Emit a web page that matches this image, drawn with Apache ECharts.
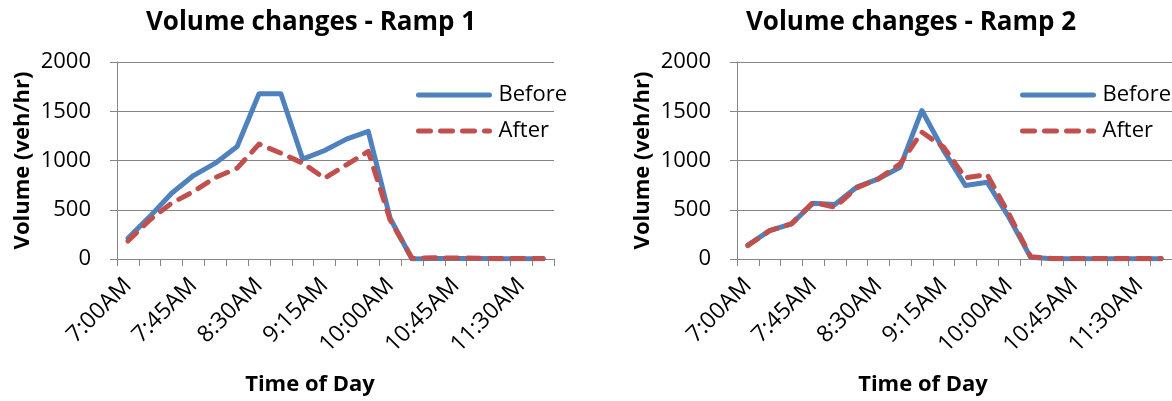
<!DOCTYPE html>
<html>
<head>
<meta charset="utf-8">
<script src="https://cdn.jsdelivr.net/npm/echarts@6/dist/echarts.min.js"></script>
<style>
  html, body { margin: 0; padding: 0; background: #fff; }
  #chart { width: 1172px; height: 401px; }
</style>
</head>
<body>
<div id="chart"></div>
<script>
// 15-minute intervals, 7:00AM - 11:45AM
var times = ['7:00AM', '7:15AM', '7:30AM', '7:45AM', '8:00AM', '8:15AM', '8:30AM', '8:45AM',
    '9:00AM', '9:15AM', '9:30AM', '9:45AM', '10:00AM', '10:15AM', '10:30AM', '10:45AM',
    '11:00AM', '11:15AM', '11:30AM', '11:45AM'];

var ramp1Before = [210, 430, 668, 847, 973, 1142, 1678, 1678, 1014, 1102, 1217, 1295, 414, 0, 5, 5, 5, 3, 3, 3];
var ramp1After = [183, 397, 566, 685, 827, 922, 1166, 1075, 973, 820, 956, 1092, 397, 8, 12, 10, 8, 5, 5, 5];
var ramp2Before = [142, 288, 356, 566, 553, 729, 814, 932, 1508, 1102, 746, 780, 424, 17, 3, 3, 3, 3, 3, 3];
var ramp2After = [136, 288, 356, 576, 525, 722, 814, 966, 1288, 1136, 824, 858, 458, 24, 5, 5, 5, 5, 5, 5];

var FONT = 'Open Sans';
var GRID_COLOR = '#868686';
var BLUE = '#4F81BD';
var RED = '#C0504D';

var chart = echarts.init(document.getElementById('chart'));

function makeX(idx) {
    return {
        type: 'category',
        gridIndex: idx,
        data: times,
        boundaryGap: true,
        axisLine: { lineStyle: { color: GRID_COLOR, width: 1 } },
        axisTick: { show: true, interval: 0, length: 7, lineStyle: { color: GRID_COLOR } },
        axisLabel: {
            interval: 2,
            rotate: 45,
            margin: 23,
            color: '#000',
            fontFamily: FONT,
            fontSize: 23
        }
    };
}

function makeY(idx) {
    return {
        type: 'value',
        gridIndex: idx,
        min: 0,
        max: 2000,
        interval: 500,
        name: 'Volume (veh/hr)',
        nameLocation: 'middle',
        nameRotate: 90,
        nameGap: 83,
        nameTextStyle: { color: '#000', fontFamily: FONT, fontWeight: 'bold', fontSize: 22 },
        axisLine: { show: true, lineStyle: { color: GRID_COLOR, width: 1 } },
        axisTick: { show: true, length: 7, lineStyle: { color: GRID_COLOR } },
        axisLabel: {
            margin: 26,
            color: '#000',
            fontFamily: FONT,
            fontSize: 22,
            formatter: function (v) { return String(v); }
        },
        splitLine: { lineStyle: { color: GRID_COLOR, width: 1 } }
    };
}

function makeSeries(name, data, idx, color, dashed) {
    return {
        name: name,
        type: 'line',
        xAxisIndex: idx,
        yAxisIndex: idx,
        data: data,
        symbol: 'none',
        animation: false,
        lineStyle: {
            color: color,
            width: 5,
            type: dashed ? [12, 10] : 'solid',
            cap: 'round',
            join: 'round'
        },
        itemStyle: { color: color }
    };
}

function makeLegend(left) {
    return {
        left: left,
        top: 84,
        padding: 0,
        orient: 'vertical',
        itemWidth: 71,
        itemHeight: 22,
        itemGap: 14,
        data: ['Before', 'After'],
        selectedMode: false,
        itemStyle: { opacity: 0 },
        lineStyle: { width: 5 },
        textStyle: { color: '#000', fontFamily: FONT, fontSize: 22, padding: [0, 0, 0, 4] }
    };
}

var titleStyle = { color: '#000', fontFamily: FONT, fontWeight: 'bold', fontSize: 26 };
var axisTitleStyle = { color: '#000', fontFamily: FONT, fontWeight: 'bold', fontSize: 22 };

chart.setOption({
    backgroundColor: '#fff',
    animation: false,
    title: [
        { text: 'Volume changes - Ramp 1', left: 306, top: 5, textAlign: 'center', textStyle: titleStyle },
        { text: 'Volume changes - Ramp 2', left: 906, top: 5, textAlign: 'center', textStyle: titleStyle },
        { text: 'Time of Day', left: 305, top: 369, textAlign: 'center', textStyle: axisTitleStyle },
        { text: 'Time of Day', left: 918, top: 369, textAlign: 'center', textStyle: axisTitleStyle }
    ],
    legend: [makeLegend(416), makeLegend(1020)],
    grid: [
        { left: 117, top: 62, width: 437, height: 197 },
        { left: 737, top: 62, width: 437, height: 197 }
    ],
    xAxis: [makeX(0), makeX(1)],
    yAxis: [makeY(0), makeY(1)],
    series: [
        makeSeries('Before', ramp1Before, 0, BLUE, false),
        makeSeries('After', ramp1After, 0, RED, true),
        makeSeries('Before', ramp2Before, 1, BLUE, false),
        makeSeries('After', ramp2After, 1, RED, true)
    ]
});
</script>
</body>
</html>
